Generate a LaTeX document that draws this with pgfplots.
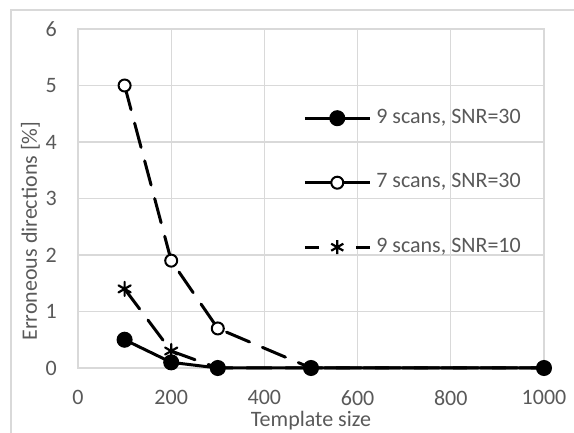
\documentclass[border=0pt]{standalone}
\usepackage{fontspec}
\setmainfont{Carlito}
\usepackage{pgfplots}
\pgfplotsset{compat=1.18}
\definecolor{gridc}{HTML}{D9D9D9}
\definecolor{txt}{HTML}{595959}
\begin{document}
\begin{tikzpicture}[x=1pt,y=1pt]
\useasboundingbox (0,0) rectangle (574,433);
\draw[gridc, line width=1.2pt] (11,0) -- (11,423) -- (574,423);
\begin{axis}[
  at={(78pt,65pt)}, anchor=south west,
  scale only axis, width=466pt, height=339pt,
  xmin=0,xmax=1000,ymin=0,ymax=6,
  xtick={0,200,...,1000}, ytick={0,1,...,6},
  grid=major, major grid style={gridc, line width=1.3pt},
  axis line style={gridc, line width=1.3pt},
  major tick length=0pt,
  tick label style={font=\fontsize{22}{26}\selectfont, text=txt, inner sep=0pt},
  /pgf/number format/assume math mode=true,
  /pgf/number format/set thousands separator={},
  xticklabel shift=22pt, yticklabel shift=21pt,
  clip=false,
  legend style={at={(axis cs:483,4.584)}, anchor=north west, draw=none, fill=none,
    font=\fontsize{22}{26}\selectfont, text=txt, row sep=46.5pt, column sep=5pt, inner sep=0pt,
    nodes={inner sep=0pt, text height=14pt, text depth=4pt}},
  legend cell align=left,
  legend image code/.code={\draw[mark repeat=2,mark phase=2] plot coordinates {(0pt,0pt)(32.5pt,0pt)(65pt,0pt)};},
]
\addlegendimage{black, line width=3pt, mark=*, mark size=6.5pt}
\addlegendentry{9 scans, SNR=30}
\addlegendimage{black, line width=3pt, mark=*, mark size=6pt, mark options={fill=white, line width=2pt}}
\addlegendentry{7 scans, SNR=30}
\addlegendimage{black, line width=3pt, dash pattern=on 14pt off 37pt, mark=asterisk, mark size=7pt, mark options={solid, line width=2.2pt}}
\addlegendentry{9 scans, SNR=10}

\addplot[forget plot, black, line width=3pt, dash pattern=on 25pt off 14pt, line cap=round,
  mark=*, mark size=6pt, mark options={solid, fill=white, line width=2pt}]
  coordinates {(100,5)(200,1.9)(300,0.7)(500,0)(1000,0)};
\addplot[forget plot, black, line width=3pt, mark=*, mark size=6.5pt]
  coordinates {(100,0.5)(200,0.1)(300,0)(500,0)(1000,0)};
\addplot[forget plot, black, line width=3pt, dash pattern=on 25pt off 14pt, line cap=round,
  mark=asterisk, mark size=7pt, mark options={solid, line width=2.2pt}]
  coordinates {(100,1.4)(200,0.3)(300,0)(500,0)(1000,0)};
\end{axis}
\node[rotate=90, anchor=base, text=txt, font=\fontsize{22}{26}\selectfont] at (37,202) {Erroneous directions [\%]};
\node[anchor=base, text=txt, font=\fontsize{22}{26}\selectfont] at (311,6) {Template size};
\end{tikzpicture}
\end{document}
